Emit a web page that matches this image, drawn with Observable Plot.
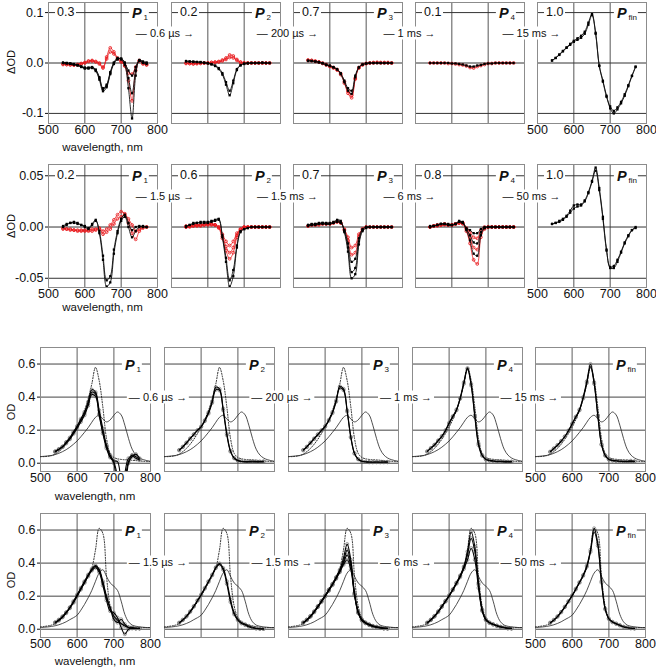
<!DOCTYPE html>
<html><head><meta charset="utf-8">
<script src="https://cdn.jsdelivr.net/npm/d3@7"></script>
<script src="https://cdn.jsdelivr.net/npm/@observablehq/plot@0.6"></script>
<style>
body{margin:0;background:#fff;}
#fig{position:relative;width:656px;height:669px;overflow:hidden;font-family:Arial,"Liberation Sans",Helvetica,sans-serif;color:#111;background:#fff;}
#fig svg{position:absolute;overflow:visible;}
.lab{position:absolute;white-space:nowrap;line-height:1;}
.bg{background:#fff;}
.pl{font-weight:bold;font-style:italic;font-size:14.5px;}
.pl sub{font-weight:normal;font-style:normal;font-size:8px;position:relative;top:2px;vertical-align:baseline;margin-left:2px;}
</style></head><body><div id="fig"></div>
<script>
// ---------- data ----------
const wl = [540,550,560,570,580,590,600,610,620,630,640,650,660,670,680,690,700,710,720,730,740,750,760,770];
const wlRef = [500,510,520,530,540,550,560,570,580,590,600,610,620,630,640,650,660,670,680,690,700,710,720,730,740,750,760,770,780,790,800];

// Row 1 (ΔOD, set A)
const r1p1Black = [
 [0.000,0.000,-0.001,-0.002,-0.004,-0.007,-0.010,-0.010,-0.009,-0.014,-0.030,-0.052,-0.045,-0.020,0.000,0.008,0.008,0.000,-0.015,-0.025,-0.008,0.005,0.002,0.000],
 [0.001,0.000,-0.001,-0.003,-0.005,-0.008,-0.011,-0.011,-0.010,-0.016,-0.033,-0.056,-0.048,-0.022,-0.002,0.007,0.009,0.001,-0.030,-0.060,-0.015,0.004,0.000,-0.002],
 [0.000,-0.001,-0.002,-0.003,-0.004,-0.007,-0.009,-0.009,-0.008,-0.013,-0.028,-0.050,-0.043,-0.018,0.001,0.010,0.007,-0.004,-0.050,-0.110,-0.025,0.006,0.003,0.001]];
const r1p1Red = [
 [-0.003,-0.003,-0.003,-0.004,-0.004,-0.002,0.000,0.004,0.005,0.003,0.000,-0.008,0.012,0.030,0.022,0.010,0.004,-0.005,-0.020,-0.022,-0.008,0.005,0.000,-0.003],
 [-0.002,-0.003,-0.004,-0.004,-0.003,-0.001,0.001,0.003,0.004,0.002,-0.002,-0.010,0.008,0.022,0.018,0.008,0.002,-0.006,-0.035,-0.075,-0.015,0.004,-0.002,-0.004]];
const r1p2Black = [
 [0.003,0.003,0.002,0.002,0.002,0.001,0.000,-0.002,-0.005,-0.010,-0.020,-0.038,-0.055,-0.035,-0.012,-0.004,-0.001,0.000,0.000,0.000,0.000,0.001,0.000,0.000],
 [0.004,0.003,0.003,0.002,0.001,0.000,-0.001,-0.003,-0.006,-0.012,-0.023,-0.043,-0.064,-0.040,-0.014,-0.005,-0.002,-0.001,0.000,0.000,0.000,0.000,0.000,0.000]];
const r1p2Red = [
 [0.000,-0.001,-0.001,-0.001,0.000,0.000,0.000,0.001,0.002,0.003,0.006,0.010,0.016,0.014,0.007,0.002,0.000,0.000,0.000,0.000,0.000,0.000,0.000,0.000],
 [-0.001,-0.001,-0.002,-0.001,-0.001,0.000,0.000,0.001,0.001,0.002,0.004,0.007,0.011,0.010,0.005,0.001,0.000,0.000,0.000,0.000,0.000,0.000,0.000,0.000]];
const r1p3Black = [
 [0.004,0.004,0.003,0.002,0.000,-0.003,-0.005,-0.008,-0.012,-0.020,-0.035,-0.050,-0.055,-0.025,-0.008,-0.003,-0.001,0.000,0.000,0.000,0.000,0.000,0.000,0.000],
 [0.005,0.004,0.003,0.001,-0.001,-0.004,-0.006,-0.009,-0.013,-0.022,-0.038,-0.055,-0.061,-0.028,-0.009,-0.003,-0.001,0.000,0.000,0.000,0.000,0.000,0.000,0.000]];
const r1p3Red = [
 [0.006,0.005,0.004,0.002,0.000,-0.003,-0.006,-0.009,-0.013,-0.021,-0.037,-0.056,-0.064,-0.030,-0.009,-0.003,-0.001,0.000,0.001,0.001,0.000,0.001,0.000,0.000],
 [0.005,0.005,0.003,0.002,-0.001,-0.004,-0.007,-0.010,-0.014,-0.023,-0.040,-0.060,-0.069,-0.032,-0.010,-0.004,-0.001,0.000,0.000,0.001,0.001,0.000,0.001,0.000]];
const r1p4Black = [
 [0.000,0.000,0.000,0.000,0.000,0.000,-0.001,-0.001,-0.002,-0.003,-0.005,-0.007,-0.007,-0.005,-0.004,-0.002,-0.001,-0.001,0.000,0.000,0.000,0.000,0.000,0.000]];
const r1p4Red = [
 [0.000,0.000,0.000,0.000,0.000,-0.001,-0.001,-0.002,-0.003,-0.004,-0.006,-0.009,-0.010,-0.007,-0.005,-0.003,-0.001,-0.001,0.000,0.000,0.000,0.000,0.000,0.000]];
const r1p5Black = [
 [0.005,0.010,0.017,0.024,0.031,0.038,0.044,0.049,0.054,0.062,0.080,0.097,0.060,-0.005,-0.035,-0.065,-0.090,-0.100,-0.092,-0.080,-0.065,-0.046,-0.026,-0.008],
 [0.005,0.010,0.016,0.023,0.030,0.036,0.042,0.046,0.050,0.058,0.076,0.095,0.058,-0.006,-0.037,-0.067,-0.086,-0.095,-0.088,-0.077,-0.062,-0.044,-0.025,-0.007]];

// Row 2 (ΔOD, set B)
const r2p1Black = [
 [0.000,0.002,0.004,0.004,0.003,0.002,0.000,-0.002,0.002,0.006,-0.004,-0.028,-0.052,-0.048,-0.022,-0.004,0.008,0.012,0.004,-0.003,0.000,0.001,0.000,0.000],
 [0.001,0.003,0.004,0.005,0.004,0.002,0.001,-0.001,0.003,0.007,-0.006,-0.032,-0.058,-0.054,-0.026,-0.006,0.006,0.010,0.000,-0.010,-0.004,0.000,0.001,0.000]];
const r2p1Red = [
 [-0.002,-0.002,-0.003,-0.003,-0.004,-0.004,-0.004,-0.004,-0.004,-0.003,-0.002,-0.007,-0.005,-0.002,0.003,0.008,0.010,0.012,0.008,0.002,-0.004,-0.002,0.000,0.000],
 [-0.001,-0.002,-0.002,-0.003,-0.003,-0.003,-0.003,-0.003,-0.002,-0.002,-0.001,-0.004,-0.002,0.002,0.007,0.012,0.015,0.013,0.004,-0.006,-0.012,-0.004,-0.001,0.000]];
const r2p2Black = [
 [0.000,0.002,0.003,0.004,0.004,0.004,0.004,0.005,0.006,0.007,-0.008,-0.030,-0.052,-0.042,-0.018,-0.004,-0.002,-0.001,0.000,0.000,0.000,0.000,0.000,0.000],
 [0.001,0.002,0.004,0.004,0.005,0.005,0.005,0.006,0.007,0.008,-0.010,-0.034,-0.058,-0.048,-0.020,-0.005,-0.002,-0.001,0.000,0.000,0.000,0.000,0.000,0.000]];
const r2p2Red = [
 [0.000,0.000,0.001,0.001,0.001,0.002,0.002,0.002,0.002,0.000,-0.007,-0.014,-0.018,-0.014,-0.006,-0.002,0.000,0.000,0.000,0.000,0.000,0.000,0.000,0.000],
 [0.000,0.001,0.001,0.002,0.002,0.002,0.003,0.003,0.002,0.000,-0.009,-0.019,-0.025,-0.020,-0.008,-0.002,0.000,0.000,0.000,0.000,0.000,0.000,0.000,0.000],
 [0.001,0.001,0.002,0.002,0.002,0.003,0.003,0.003,0.002,-0.001,-0.011,-0.023,-0.031,-0.025,-0.010,-0.003,-0.001,0.000,0.000,0.000,0.000,0.000,0.000,0.000]];
const r2p3Black = [
 [0.002,0.002,0.003,0.003,0.004,0.003,0.003,0.004,0.006,0.005,-0.004,-0.020,-0.044,-0.040,-0.014,-0.003,0.000,0.000,0.000,0.000,0.000,0.000,0.000,0.000],
 [0.001,0.002,0.002,0.003,0.003,0.003,0.003,0.004,0.005,0.004,-0.003,-0.016,-0.034,-0.031,-0.011,-0.002,0.000,0.000,0.000,0.000,0.000,0.000,0.000,0.000],
 [0.002,0.003,0.003,0.004,0.004,0.004,0.004,0.005,0.007,0.006,-0.005,-0.024,-0.050,-0.046,-0.017,-0.004,-0.001,0.000,0.000,0.000,0.000,0.000,0.000,0.000]];
const r2p3Red = [
 [0.001,0.002,0.002,0.002,0.003,0.003,0.003,0.004,0.005,0.004,-0.002,-0.010,-0.020,-0.018,-0.007,-0.002,0.000,0.000,0.000,0.000,0.000,0.000,0.000,0.000],
 [0.001,0.002,0.002,0.003,0.003,0.003,0.003,0.004,0.005,0.004,-0.003,-0.013,-0.027,-0.025,-0.009,-0.002,0.000,0.000,0.000,0.000,0.000,0.000,0.000,0.000]];
const r2p4Black = [
 [0.000,0.001,0.002,0.003,0.003,0.002,0.002,0.003,0.005,0.005,-0.001,-0.003,-0.006,-0.006,-0.002,0.000,0.000,0.000,0.000,0.000,0.000,0.000,0.000,0.000],
 [0.000,0.001,0.002,0.003,0.003,0.002,0.002,0.003,0.005,0.004,-0.002,-0.008,-0.015,-0.016,-0.005,-0.001,0.000,0.000,0.000,0.000,0.000,0.000,0.000,0.000],
 [0.001,0.001,0.002,0.003,0.003,0.003,0.002,0.003,0.006,0.004,-0.003,-0.013,-0.026,-0.028,-0.008,-0.001,0.000,0.000,0.000,0.000,0.000,0.000,0.000,0.000]];
const r2p4Red = [
 [0.000,0.001,0.002,0.002,0.003,0.002,0.002,0.003,0.004,0.004,-0.001,-0.005,-0.010,-0.011,-0.003,0.000,0.000,0.000,0.000,0.000,0.000,0.000,0.000,0.000],
 [0.000,0.001,0.002,0.002,0.003,0.002,0.002,0.003,0.004,0.004,-0.002,-0.010,-0.020,-0.022,-0.006,-0.001,0.000,0.000,0.000,0.000,0.000,0.000,0.000,0.000],
 [0.000,0.001,0.001,0.002,0.002,0.002,0.002,0.003,0.004,0.003,-0.004,-0.016,-0.032,-0.036,-0.010,-0.002,0.000,0.000,0.000,0.000,0.000,0.000,0.000,0.000]];
const r2p5Black = [
 [0.003,0.004,0.006,0.008,0.011,0.016,0.021,0.022,0.022,0.026,0.034,0.045,0.058,0.038,0.010,-0.022,-0.040,-0.040,-0.034,-0.025,-0.016,-0.009,-0.003,0.000],
 [0.003,0.004,0.005,0.007,0.010,0.014,0.018,0.020,0.021,0.025,0.033,0.044,0.055,0.036,0.008,-0.023,-0.039,-0.038,-0.032,-0.024,-0.015,-0.008,-0.003,-0.001]];

// Row 3 (OD, set A): reference spectra + measured spectra
const r3Dotted = [0.040,0.040,0.042,0.046,0.055,0.070,0.090,0.115,0.145,0.180,0.220,0.265,0.320,0.390,0.480,0.580,0.500,0.340,0.150,0.060,0.035,0.027,0.023,0.021,0.020,0.018,0.016,0.014,0.012,0.010,0.010];
const r3Thin = [0.040,0.042,0.044,0.047,0.052,0.060,0.070,0.082,0.097,0.115,0.135,0.160,0.187,0.215,0.248,0.278,0.290,0.268,0.250,0.262,0.290,0.310,0.292,0.230,0.150,0.085,0.050,0.032,0.022,0.016,0.012];
const r3p1 = [
 [0.070,0.085,0.100,0.125,0.150,0.185,0.220,0.260,0.300,0.360,0.430,0.420,0.300,0.190,0.100,0.040,0.000,-0.150,-0.200,-0.060,0.030,0.045,0.030,0.020],
 [0.068,0.083,0.100,0.128,0.155,0.190,0.225,0.268,0.310,0.372,0.445,0.430,0.320,0.210,0.110,0.050,0.010,-0.080,-0.200,-0.100,0.010,0.050,0.040,0.025],
 [0.072,0.085,0.098,0.120,0.145,0.178,0.212,0.250,0.290,0.348,0.415,0.405,0.290,0.180,0.090,0.035,0.015,0.010,-0.100,-0.150,0.000,0.040,0.055,0.030]];
const r3p2 = [
 [0.080,0.100,0.125,0.150,0.175,0.200,0.220,0.255,0.300,0.365,0.445,0.440,0.320,0.170,0.070,0.030,0.015,0.010,0.008,0.008,0.008,0.008,0.008,0.008],
 [0.078,0.098,0.122,0.148,0.173,0.198,0.222,0.260,0.308,0.375,0.460,0.450,0.330,0.180,0.075,0.032,0.018,0.012,0.010,0.010,0.012,0.010,0.010,0.012]];
const r3p3 = [
 [0.080,0.100,0.125,0.150,0.175,0.200,0.225,0.262,0.310,0.380,0.465,0.450,0.320,0.160,0.060,0.025,0.012,0.008,0.006,0.006,0.006,0.006,0.006,0.006],
 [0.078,0.098,0.122,0.147,0.172,0.197,0.221,0.257,0.303,0.372,0.455,0.442,0.312,0.155,0.058,0.024,0.012,0.009,0.008,0.007,0.008,0.007,0.008,0.008]];
const r3p4 = [
 [0.070,0.090,0.110,0.135,0.160,0.195,0.240,0.280,0.320,0.390,0.480,0.570,0.470,0.280,0.110,0.045,0.022,0.015,0.012,0.010,0.010,0.008,0.008,0.008],
 [0.072,0.092,0.112,0.138,0.165,0.200,0.245,0.285,0.325,0.395,0.490,0.575,0.480,0.290,0.120,0.050,0.025,0.018,0.015,0.012,0.012,0.010,0.010,0.010]];
const r3p5 = [
 [0.070,0.090,0.110,0.135,0.162,0.198,0.240,0.282,0.325,0.400,0.495,0.600,0.490,0.290,0.115,0.048,0.025,0.018,0.015,0.012,0.012,0.012,0.015,0.012],
 [0.068,0.088,0.108,0.132,0.160,0.195,0.236,0.278,0.320,0.392,0.485,0.585,0.480,0.285,0.112,0.046,0.022,0.016,0.014,0.012,0.010,0.010,0.010,0.010]];

// Row 4 (OD, set B)
const r4Dotted = [0.015,0.017,0.020,0.025,0.035,0.050,0.070,0.100,0.130,0.165,0.200,0.240,0.280,0.320,0.370,0.480,0.610,0.580,0.320,0.140,0.070,0.045,0.032,0.025,0.020,0.015,0.012,0.010,0.010,0.010,0.010];
const r4Thin = [0.010,0.012,0.014,0.017,0.021,0.027,0.035,0.045,0.058,0.070,0.085,0.115,0.150,0.190,0.235,0.290,0.340,0.360,0.320,0.280,0.260,0.235,0.170,0.090,0.045,0.025,0.018,0.014,0.012,0.010,0.010];
const r4p1 = [
 [0.040,0.055,0.075,0.100,0.130,0.165,0.205,0.245,0.285,0.325,0.360,0.380,0.355,0.280,0.190,0.125,0.080,0.055,0.035,0.020,0.010,0.008,0.005,0.005],
 [0.038,0.052,0.072,0.097,0.127,0.160,0.200,0.240,0.280,0.320,0.355,0.372,0.345,0.265,0.175,0.110,0.100,0.070,0.010,-0.030,0.000,0.010,0.005,0.005],
 [0.042,0.058,0.078,0.103,0.133,0.170,0.210,0.250,0.290,0.330,0.365,0.385,0.362,0.290,0.200,0.130,0.060,0.040,0.060,0.030,0.010,0.005,0.005,0.005]];
const r4p2 = [
 [0.040,0.058,0.080,0.108,0.140,0.175,0.210,0.250,0.290,0.330,0.375,0.398,0.370,0.290,0.180,0.100,0.060,0.040,0.030,0.020,0.012,0.006,0.003,0.002],
 [0.038,0.055,0.077,0.105,0.137,0.172,0.207,0.246,0.286,0.326,0.370,0.392,0.360,0.275,0.165,0.090,0.055,0.035,0.025,0.015,0.008,0.004,0.002,0.002]];
const r4p3 = [
 [0.040,0.058,0.080,0.108,0.140,0.172,0.205,0.240,0.275,0.315,0.360,0.430,0.515,0.420,0.220,0.110,0.060,0.040,0.030,0.020,0.015,0.010,0.006,0.005],
 [0.040,0.057,0.079,0.106,0.138,0.170,0.203,0.238,0.272,0.312,0.355,0.410,0.480,0.400,0.215,0.105,0.058,0.040,0.028,0.020,0.014,0.010,0.006,0.005],
 [0.039,0.056,0.078,0.105,0.136,0.168,0.200,0.235,0.270,0.310,0.350,0.400,0.450,0.380,0.210,0.100,0.055,0.038,0.026,0.018,0.012,0.008,0.005,0.004],
 [0.038,0.055,0.076,0.103,0.134,0.165,0.198,0.232,0.267,0.305,0.345,0.390,0.420,0.360,0.205,0.098,0.052,0.036,0.025,0.017,0.012,0.008,0.005,0.004]];
const r4p4 = [
 [0.040,0.058,0.080,0.108,0.140,0.172,0.205,0.242,0.282,0.325,0.380,0.470,0.590,0.500,0.280,0.120,0.060,0.040,0.030,0.022,0.015,0.010,0.006,0.005],
 [0.039,0.057,0.079,0.106,0.138,0.170,0.203,0.240,0.280,0.322,0.375,0.450,0.550,0.470,0.270,0.115,0.058,0.040,0.030,0.021,0.014,0.010,0.006,0.005],
 [0.038,0.055,0.077,0.104,0.135,0.167,0.200,0.236,0.275,0.315,0.365,0.420,0.490,0.420,0.250,0.110,0.055,0.038,0.028,0.020,0.013,0.009,0.005,0.004]];
const r4p5 = [
 [0.040,0.057,0.078,0.105,0.136,0.170,0.205,0.245,0.285,0.328,0.385,0.480,0.610,0.520,0.290,0.125,0.065,0.045,0.035,0.025,0.015,0.010,0.006,0.005],
 [0.038,0.055,0.076,0.103,0.134,0.167,0.202,0.241,0.281,0.323,0.378,0.468,0.590,0.505,0.282,0.120,0.062,0.042,0.032,0.023,0.014,0.009,0.006,0.004]];

// text
const stateNames = ["1","2","3","4","fin"];
const fractionsRow1 = ["0.3","0.2","0.7","0.1","1.0"];
const fractionsRow2 = ["0.2","0.6","0.7","0.8","1.0"];
const stepsA = ["0.6 µs","200 µs","1 ms","15 ms"];
const stepsB = ["1.5 µs","1.5 ms","6 ms","50 ms"];
const yTitles = ["ΔOD","ΔOD","OD","OD"];
const xTitle = "wavelength, nm";
const xTicks = [500,600,700,800];
const xGrid = [600,700];
const yTicksRow = [[-0.1,0,0.1],[-0.05,0,0.05],[0,0.2,0.4,0.6],[0,0.2,0.4,0.6]];
const yDigits = [1,2,1,1];

// ---------- layout ----------
const rowTops = [2,164,347,513];
const rowHeights = [121,123,124,124];
const colLefts = [[48,171,293,415,537],[48,171,293,415,537],[40,164,288,412,535],[40,164,288,412,535]];
const boxWidths = [109,109,110,110];
const yDomains = [[-0.12,0.12],[-0.059,0.061],[-0.05,0.70],[-0.05,0.70]];
const stepY = [33,196,397,562];
const xTitleY = [148,308,497,662];
const yTitleY = [62,226,412,580];
const RED = "#e8161b";

const fig = document.getElementById("fig");
const FONT = 'Arial, "Liberation Sans", Helvetica, sans-serif';

const diff = {
  0: [[r1p1Black,r1p1Red],[r1p2Black,r1p2Red],[r1p3Black,r1p3Red],[r1p4Black,r1p4Red],[r1p5Black,[]]],
  1: [[r2p1Black,r2p1Red],[r2p2Black,r2p2Red],[r2p3Black,r2p3Red],[r2p4Black,r2p4Red],[r2p5Black,[]]]
};
const abs = {
  2: {dotted: r3Dotted, thin: r3Thin, sets: [r3p1,r3p2,r3p3,r3p4,r3p5]},
  3: {dotted: r4Dotted, thin: r4Thin, sets: [r4p1,r4p2,r4p3,r4p4,r4p5]}
};

function flat(curves, xs, tag) {
  return curves.flatMap((c,i) => c.map((v,j) => ({wl: xs[j], v, id: tag+i})));
}
function yPix(r, val) {
  const [a,b] = yDomains[r];
  return rowTops[r] + (b - val) / (b - a) * rowHeights[r];
}
function addLab(html, left, top, cls, tf) {
  const d = document.createElement("div");
  d.className = "lab " + (cls||"");
  d.innerHTML = html;
  d.style.left = left + "px";
  d.style.top = top + "px";
  if (tf) d.style.transform = tf;
  fig.appendChild(d);
  return d;
}

const mL = 40, mR = 12, mT = 2, mB = 26;

for (let r = 0; r < 4; r++) {
  for (let c = 0; c < 5; c++) {
    const W = boxWidths[r], H = rowHeights[r];
    const isDiff = r < 2;
    const marks = [
      Plot.ruleX(xGrid, {stroke: isDiff ? "#555" : "#9a9a9a", strokeWidth: isDiff ? 1 : 1.6}),
      Plot.ruleY(yTicksRow[r], {stroke: isDiff ? "#333" : "#444", strokeWidth: 1}),
      Plot.frame({stroke: "#8c8c8c"})
    ];
    if (isDiff) {
      const [blk, red] = diff[r][c];
      const kd = flat(blk, wl, "k"), rd = flat(red, wl, "r");
      marks.push(
        Plot.line(rd, {x: "wl", y: "v", z: "id", stroke: RED, strokeWidth: 0.8, curve: "catmull-rom", clip: true}),
        Plot.dot(rd, {x: "wl", y: "v", r: 1.4, stroke: RED, strokeWidth: 0.8, fill: "none", clip: true}),
        Plot.line(kd, {x: "wl", y: "v", z: "id", stroke: "#111", strokeWidth: 0.9, curve: "catmull-rom", clip: true}),
        Plot.dot(kd, {x: "wl", y: "v", symbol: "square", r: 1.3, fill: "#000", clip: true})
      );
    } else {
      const A = abs[r];
      const dot = A.dotted.map((v,j) => ({wl: wlRef[j], v}));
      const thn = A.thin.map((v,j) => ({wl: wlRef[j], v}));
      const md = flat(A.sets[c], wl, "m");
      marks.push(
        Plot.line(thn, {x: "wl", y: "v", stroke: "#222", strokeWidth: 0.8, curve: "catmull-rom", clip: true}),
        Plot.line(dot, {x: "wl", y: "v", stroke: "#222", strokeWidth: 1, strokeDasharray: "1,1.6", curve: "catmull-rom", clip: true}),
        Plot.dot(md, {x: "wl", y: "v", r: 1.6, stroke: "#777", strokeWidth: 0.7, fill: "none", clip: true}),
        Plot.line(md, {x: "wl", y: "v", z: "id", stroke: "#000", strokeWidth: 1.1, curve: "catmull-rom", clip: true})
      );
    }
    const showX = (c === 0 || c === 4);
    const svg = Plot.plot({
      width: W + mL + mR, height: H + mT + mB,
      marginLeft: mL, marginRight: mR, marginTop: mT, marginBottom: mB,
      x: {domain: [500,800], ticks: xTicks, axis: showX ? "bottom" : null, tickSize: 0, tickPadding: 2, label: null, tickFormat: d => String(d)},
      y: {domain: yDomains[r], ticks: yTicksRow[r], axis: c === 0 ? "left" : null, tickSize: 3, tickPadding: 2, label: null, tickFormat: d => d.toFixed(yDigits[r])},
      style: {background: "transparent", overflow: "visible", fontSize: "12.5px", fontFamily: FONT, color: "#111"},
      marks
    });
    svg.style.left = (colLefts[r][c] - mL) + "px";
    svg.style.top = (rowTops[r] - mT) + "px";
    fig.appendChild(svg);
  }
}

// ---------- annotations ----------
for (let r = 0; r < 4; r++) {
  const topVal = yTicksRow[r][yTicksRow[r].length - 1];
  const gy = yPix(r, topVal);
  const W = boxWidths[r];
  for (let c = 0; c < 5; c++) {
    const left = colLefts[r][c];
    if (r < 2) {
      const fr = (r === 0 ? fractionsRow1 : fractionsRow2)[c];
      const d = addLab(fr, left + 7, gy, "bg", "translateY(-50%)");
      d.style.fontSize = "12.5px"; d.style.padding = "0 2px";
    }
    const p = addLab(`P<sub>${stateNames[c]}</sub>`, left + W - 8, gy + 1, "bg pl", "translate(-100%,-50%)");
    p.style.padding = "0 1px 0 3px";
  }
  const steps = (r % 2 === 0) ? stepsA : stepsB;
  for (let c = 0; c < 4; c++) {
    const gapC = (colLefts[r][c] + W + colLefts[r][c+1]) / 2 + 1;
    const d = addLab(`— ${steps[c]} →`, gapC, stepY[r], "bg", "translate(-50%,-50%)");
    d.style.fontSize = "11px"; d.style.padding = "1px 2px";
  }
  const yt = addLab(yTitles[r], 11, yTitleY[r], "", "translate(-50%,-50%) rotate(-90deg)");
  yt.style.fontSize = "11px";
  const xt = addLab(xTitle, colLefts[r][0] + W / 2, xTitleY[r], "", "translate(-50%,-50%)");
  xt.style.fontSize = "11.5px";
}
</script>
</body></html>
